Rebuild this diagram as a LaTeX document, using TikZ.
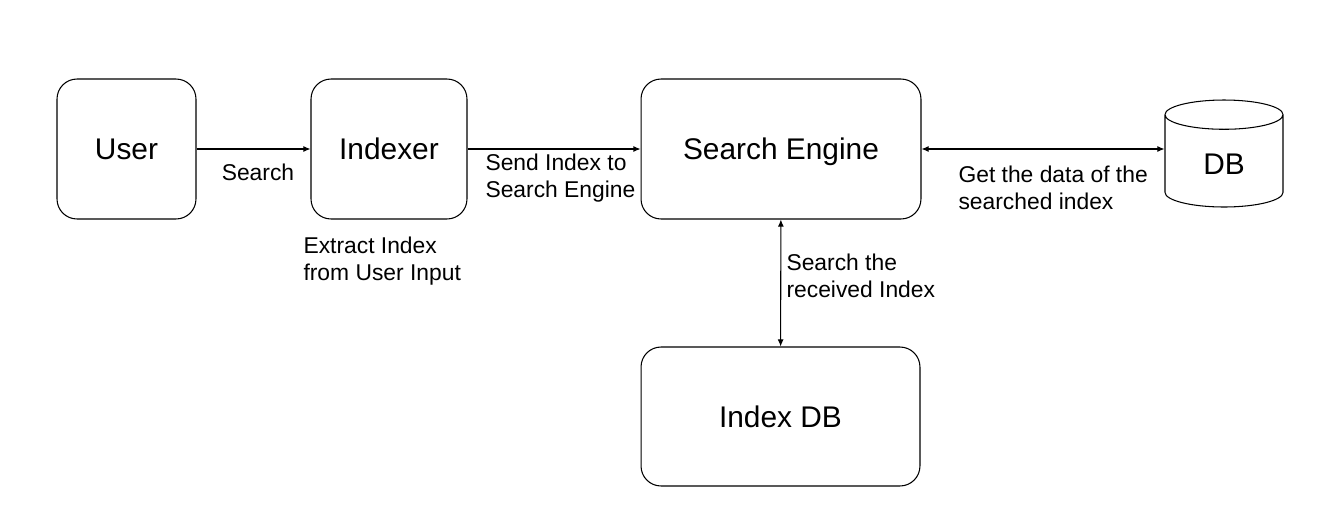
\documentclass[tikz,border=0pt]{standalone}
\usepackage{fontspec}
\setmainfont{Liberation Sans}
\usetikzlibrary{shapes.geometric,arrows.meta}
\begin{document}
\begin{tikzpicture}[x=0.02cm,y=-0.02cm,line width=0.6pt,
  box/.style={shape=rectangle,draw,rounded corners=0.4cm,text depth=0pt,font=\fontsize{17}{20}\selectfont},
  lbl/.style={inner sep=0pt,align=left,anchor=west,font=\fontsize{13}{15.3}\selectfont},
  link/.style={-{Latex[length=4pt,width=3.4pt]}},
  both/.style={{Latex[length=4pt,width=3.4pt]}-{Latex[length=4pt,width=3.4pt]}}]
\useasboundingbox (0,0) rectangle (1320,525);
\node[box,minimum width=2.78cm,minimum height=2.8cm](U) at (126.5,149){User};
\node[box,minimum width=3.12cm,minimum height=2.8cm](I) at (389,149){Indexer};
\draw[link] (U) -- (I);
\node[lbl,anchor=center](Ls) at (258,172){Search};

\node[box,minimum width=5.6cm,minimum height=2.8cm](SE) at (781,149){Search Engine};
\draw[link] (I) -- (SE);
\node[lbl](Lsend) at (485,178){Send Index to\\Search Engine};
\node[lbl](Lext) at (303,261){Extract Index\\from User Input};

\node[shape=cylinder,shape border rotate=90,aspect=0.55,draw,minimum width=2.36cm,minimum height=2.14cm,anchor=shape center,font=\fontsize{17}{20}\selectfont](DB) at (1224,153.5){DB};
\draw[both] (SE.east) -- (SE.east -| DB.west);
\node[lbl](Lget) at (958,188){Get the data of the\\searched index};

\node[box,minimum width=5.58cm,minimum height=2.78cm](IDB) at (780.5,416.5){Index DB};
\draw[both] (SE) -- (IDB);
\node[lbl](Lrec) at (786,276){Search the\\received Index};
\end{tikzpicture}
\end{document}
